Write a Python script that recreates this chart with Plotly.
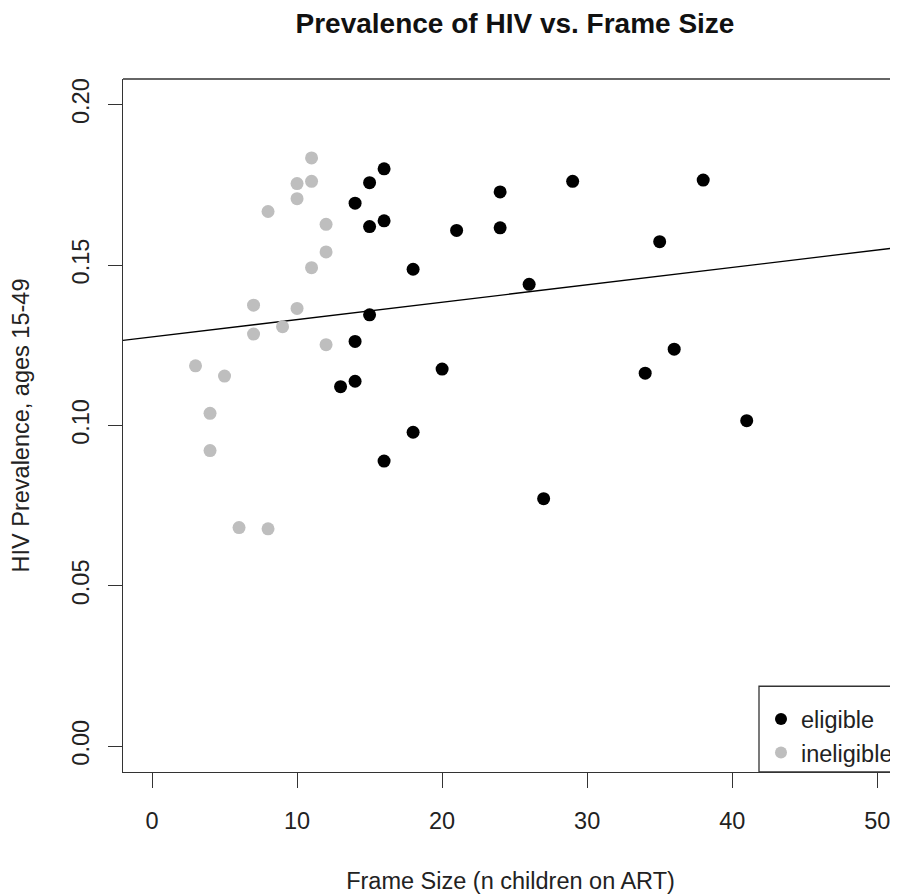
import plotly.graph_objects as go

# Eligible sites (black)
elig_frame = [16, 15, 14, 15, 16, 18, 15, 14, 14, 13, 18, 16, 20, 24, 29, 38, 21, 24, 35, 26, 36, 34, 41, 27]
elig_prev = [0.180, 0.1757, 0.1693, 0.1620, 0.1638, 0.1487, 0.1345, 0.1262, 0.1138, 0.1121, 0.0979, 0.0889,
             0.1176, 0.1728, 0.1761, 0.1765, 0.1608, 0.1616, 0.1573, 0.1440, 0.1238, 0.1163, 0.1015, 0.0772]

# Ineligible sites (gray)
inel_frame = [11, 10, 11, 10, 8, 12, 12, 11, 7, 10, 9, 7, 12, 3, 5, 4, 4, 6, 8]
inel_prev = [0.1834, 0.1754, 0.1761, 0.1707, 0.1667, 0.1627, 0.1541, 0.1492, 0.1375, 0.1365, 0.1308,
             0.1285, 0.1252, 0.1186, 0.1154, 0.1038, 0.0922, 0.0682, 0.0678]

# Regression line (abline) coefficients
fit_intercept = 0.1276
fit_slope = 0.000542
line_x = [-5, 60]
line_y = [fit_intercept + fit_slope * v for v in line_x]

x_ticks = [0, 10, 20, 30, 40, 50]
y_ticks = [0.00, 0.05, 0.10, 0.15, 0.20]
y_tick_text = ["0.00", "0.05", "0.10", "0.15", "0.20"]

FONT = "Liberation Sans, Arial, Helvetica, sans-serif"
AX = "#333333"
FS = 23.5

# figure is placed 8px in from the page corner (page body margin)
W, H = 890, 886

fig = go.Figure()
fig.add_trace(go.Scatter(x=line_x, y=line_y, mode="lines", line=dict(color="black", width=1.3),
                         showlegend=False, hoverinfo="skip"))
fig.add_trace(go.Scatter(x=elig_frame, y=elig_prev, mode="markers", name="eligible",
                         marker=dict(color="black", size=13, line=dict(width=0))))
fig.add_trace(go.Scatter(x=inel_frame, y=inel_prev, mode="markers", name="ineligible",
                         marker=dict(color="#BEBEBE", size=13, line=dict(width=0))))

fig.update_layout(
    width=W, height=H,
    margin=dict(l=115, r=0, t=71, b=120),
    paper_bgcolor="white", plot_bgcolor="white",
    font=dict(family=FONT, size=FS, color="#222222"),
    title=dict(text="<b>Prevalence of HIV vs. Frame Size</b>", x=507 / W, xref="container",
               xanchor="center", y=1 - 15.5 / H, yref="container", yanchor="middle",
               font=dict(family=FONT, size=28, color="#111111")),
    xaxis=dict(range=[-2.0, 51.43], tickvals=x_ticks, ticks="outside", ticklen=15, tickwidth=1.3,
               tickcolor=AX, showline=True, linecolor=AX, linewidth=1.3, showgrid=False, zeroline=False,
               ticklabelstandoff=13, tickfont=dict(size=FS),
               title=dict(text="Frame Size (n children on ART)", standoff=43,
                          font=dict(family=FONT, size=FS, color="#222222"))),
    yaxis=dict(range=[-0.008, 0.208], tickvals=y_ticks, ticktext=y_tick_text, ticks="outside",
               ticklen=14, tickwidth=1.3, tickcolor=AX, tickangle=-90, showline=True, linecolor=AX,
               linewidth=1.3, showgrid=False, zeroline=False, ticklabelstandoff=9, tickfont=dict(size=FS),
               title=dict(text="HIV Prevalence, ages 15-49", standoff=33,
                          font=dict(family=FONT, size=FS, color="#222222"))),
    legend=dict(x=(759 + 2 - 123) / 775, xanchor="left", y=(774 - 699) / 695, yanchor="top",
                bgcolor="rgba(0,0,0,0)", borderwidth=0, font=dict(size=FS, color="#222222"),
                itemsizing="constant", tracegroupgap=0),
    shapes=[
        dict(type="line", xref="paper", yref="paper", x0=0, x1=1.05, y0=1, y1=1,
             line=dict(color=AX, width=1.3)),
        dict(type="rect", xref="paper", yref="paper", x0=(759 - 123) / 775, x1=1.05, y0=0,
             y1=(774 - 688) / 695, line=dict(color=AX, width=1.3), fillcolor="white", layer="below"),
    ],
)

fig.write_html("out.html")
